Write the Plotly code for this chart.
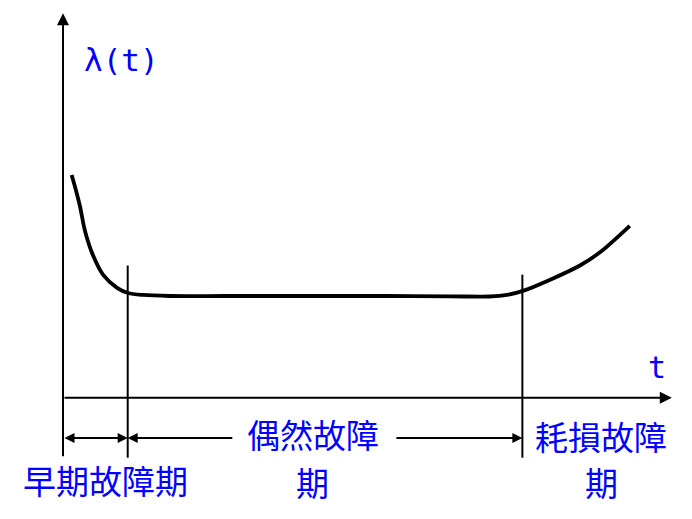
import plotly.graph_objects as go

# ---- data (time t in arbitrary units, failure rate λ in arbitrary units) ----
curve_t = [1.34, 2.0, 2.63, 3.40, 4.64, 6.18, 8.35, 10.05, 12.4, 16.5, 25.0, 36.6, 50.0, 60.0, 66.0, 68.6, 71.1, 75.3, 79.9, 83.0, 87.6]
curve_lam = [2.19, 2.04, 1.88, 1.64, 1.40, 1.21, 1.08, 1.03, 1.01, 1.00, 1.00, 1.00, 1.00, 0.997, 0.995, 1.01, 1.05, 1.16, 1.30, 1.43, 1.69]

phase_bounds = [0, 10, 71]           # start, end of early-failure, start of wear-out
phase_label_line1 = ["早期故障期", "偶然故障", "耗損故障"]
phase_label_line2 = ["", "期", "期"]
phase_label_t = [6.5, 38.6, 83.2]
axis_t_max = 94.1
axis_lam_max = 3.78
axis_lam_min = -0.59
bound_tops = [None, 1.30, 1.21]
arrow_lam = -0.396
random_arrow_tails = [26.4, 51.3]

BLUE = "#0000ff"
FONT = "Noto Sans CJK TC"
MONO = "DejaVu Sans Mono"

# pixel scale of the drawing (page has an 8px body margin)
SX, SY = 6.47, 101.7
OX, OY = 63 - 8, 397.7 - 8
W, H = 684, 511

fig = go.Figure()
fig.add_trace(go.Scatter(x=curve_t, y=curve_lam, mode="lines",
                         line=dict(color="black", width=3.8, shape="spline", smoothing=0.9),
                         hoverinfo="skip", showlegend=False))

ann = []
common = dict(xref="x", yref="y", axref="x", ayref="y", text="", showarrow=True,
              arrowcolor="black", arrowwidth=2, standoff=0)
# y axis (with arrow on top)
ann.append(dict(x=0, y=axis_lam_max, ax=0, ay=axis_lam_min, arrowhead=2, arrowsize=1.2, **common))
# x axis
ann.append(dict(x=axis_t_max, y=0, ax=0, ay=0, arrowhead=2, arrowsize=1.2, **common))
# early failure double arrow
ann.append(dict(x=phase_bounds[1], y=arrow_lam, ax=phase_bounds[0], ay=arrow_lam,
                arrowhead=2, startarrowhead=2, arrowside="end+start",
                arrowsize=1.0, startarrowsize=1.0, startstandoff=0, **common))
# random failure arrows (split around the label)
ann.append(dict(x=phase_bounds[1], y=arrow_lam, ax=random_arrow_tails[0], ay=arrow_lam,
                arrowhead=2, arrowsize=1.0, **common))
ann.append(dict(x=phase_bounds[2], y=arrow_lam, ax=random_arrow_tails[1], ay=arrow_lam,
                arrowhead=2, arrowsize=1.0, **common))

# labels
ann.append(dict(x=2.9, y=3.32, xref="x", yref="y", text="λ(t)", showarrow=False, xanchor="left",
                font=dict(family=MONO, size=31, color=BLUE)))
ann.append(dict(x=91.8, y=0.30, xref="x", yref="y", text="t", showarrow=False,
                font=dict(family=MONO, size=30, color=BLUE)))
line1_lam = [-0.81, -0.356, -0.375]
line2_lam = -0.83
for i, (t1, l1, l2) in enumerate(zip(phase_label_t, phase_label_line1, phase_label_line2)):
    ann.append(dict(x=t1, y=line1_lam[i], xref="x", yref="y", text=l1, showarrow=False,
                    font=dict(family=FONT, size=33, color=BLUE)))
    if l2:
        ann.append(dict(x=t1, y=line2_lam, xref="x", yref="y", text=l2, showarrow=False,
                        font=dict(family=FONT, size=33, color=BLUE)))

shapes = []
for b, top in zip(phase_bounds[1:], bound_tops[1:]):
    shapes.append(dict(type="line", xref="x", yref="y", x0=b, x1=b, y0=axis_lam_min, y1=top,
                       line=dict(color="black", width=2)))

fig.update_layout(
    width=W, height=H,
    margin=dict(l=0, r=0, t=0, b=0),
    paper_bgcolor="white", plot_bgcolor="white",
    xaxis=dict(range=[-OX / SX, (W - OX) / SX], visible=False, fixedrange=True),
    yaxis=dict(range=[(OY - H) / SY, OY / SY], visible=False, fixedrange=True),
    annotations=ann, shapes=shapes, showlegend=False,
)
fig.write_html("out.html")
